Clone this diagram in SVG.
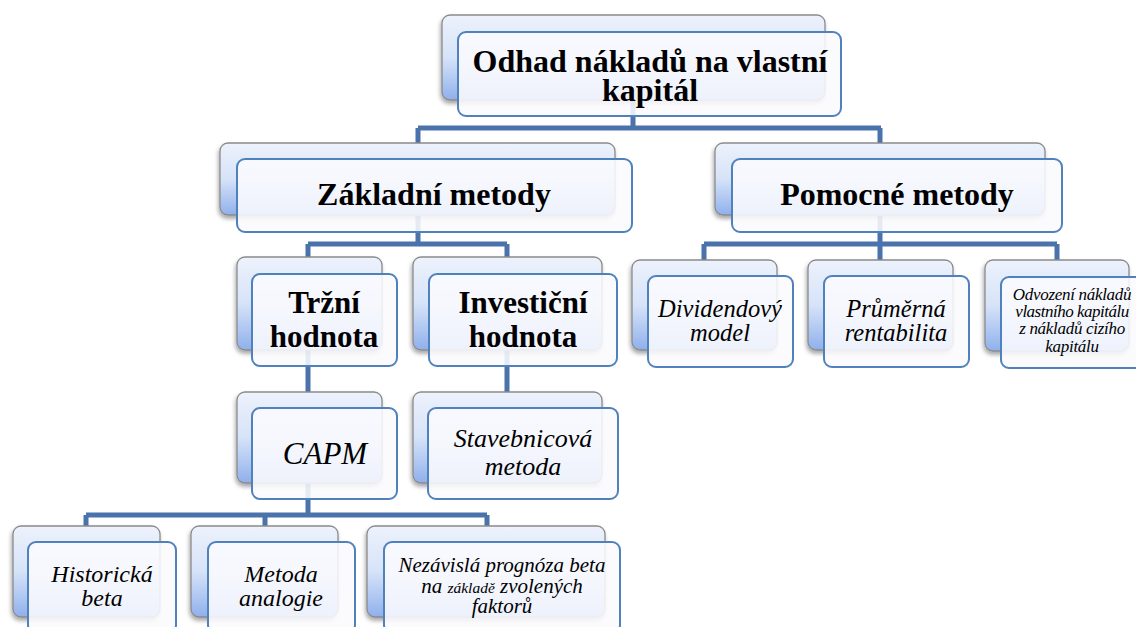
<svg xmlns="http://www.w3.org/2000/svg" width="1136" height="627" viewBox="0 0 1136 627">
<defs>
<linearGradient id="bg" x1="0" y1="0" x2="0" y2="1">
<stop offset="0" stop-color="#edf2fc"/>
<stop offset="0.5" stop-color="#d6e3f8"/>
<stop offset="1" stop-color="#8fb0ec"/>
</linearGradient>
<filter id="sh" x="-10%" y="-10%" width="125%" height="130%">
<feDropShadow dx="-1" dy="3" stdDeviation="2" flood-color="#000" flood-opacity="0.35"/>
</filter>
</defs>
<style>
.back{fill:url(#bg);stroke:#8a8a8a;stroke-width:1.3;filter:url(#sh)}
.front{fill:#fafbfe;fill-opacity:0.88;stroke:#4f81bd;stroke-width:2}
.con{fill:none;stroke:#4a73ab;stroke-width:5}
.b{font-family:"Liberation Serif","Times New Roman",serif;font-weight:bold;fill:#000;text-anchor:middle}
.i{font-family:"Liberation Serif","Times New Roman",serif;font-style:italic;fill:#000;text-anchor:middle}
</style>
<rect width="1136" height="627" fill="#fff"/>
<g id="connectors">
<path class="con" d="M633 100V128M418 128H881M418 128V143M880 128V143"/>
<path class="con" d="M418 215V244M308 244H507M308 244V257M507 244V257"/>
<path class="con" d="M880 215V244M704 244H1057M704 244V260M880 244V260M1057 244V260"/>
<path class="con" d="M308 350V392M507 350V392"/>
<path class="con" d="M308 483V515M86 515H487M86 515V526M265 515V526M487 515V526"/>
</g>
<g id="n-root">
<rect class="back" x="442" y="15" width="383" height="85" rx="8"/>
<rect class="front" x="458" y="32" width="383" height="84" rx="8"/>
<text class="b" font-size="32" x="650" y="72">Odhad nákladů na vlastní</text>
<text class="b" font-size="32" x="650" y="101">kapitál</text>
</g>
<g id="n-zakladni">
<rect class="back" x="220" y="143" width="395" height="72" rx="8"/>
<rect class="front" x="237" y="159" width="395" height="73" rx="8"/>
<text class="b" font-size="32" x="434" y="205">Základní metody</text>
</g>
<g id="n-pomocne">
<rect class="back" x="715" y="143" width="330" height="72" rx="8"/>
<rect class="front" x="732" y="159" width="330" height="73" rx="8"/>
<text class="b" font-size="32" x="897" y="205">Pomocné metody</text>
</g>
<g id="n-trzni">
<rect class="back" x="237" y="257" width="145" height="93" rx="8"/>
<rect class="front" x="252" y="274" width="145" height="92" rx="8"/>
<text class="b" font-size="31" x="324" y="313">Tržní</text>
<text class="b" font-size="31" x="324" y="347">hodnota</text>
</g>
<g id="n-investicni">
<rect class="back" x="413" y="257" width="189" height="93" rx="8"/>
<rect class="front" x="429" y="274" width="188" height="92" rx="8"/>
<text class="b" font-size="31" x="523" y="313">Investiční</text>
<text class="b" font-size="31" x="523" y="347">hodnota</text>
</g>
<g id="n-capm">
<rect class="back" x="237" y="392" width="145" height="91" rx="8"/>
<rect class="front" x="252" y="408" width="145" height="91" rx="8"/>
<text class="i" font-size="31" x="325" y="464">CAPM</text>
</g>
<g id="n-stavebnicova">
<rect class="back" x="413" y="392" width="189" height="91" rx="8"/>
<rect class="front" x="428" y="408" width="190" height="91" rx="8"/>
<text class="i" font-size="26" x="523" y="447">Stavebnicová</text>
<text class="i" font-size="26" x="523" y="475">metoda</text>
</g>
<g id="n-dividendovy">
<rect class="back" x="632" y="260" width="145" height="90" rx="8"/>
<rect class="front" x="648" y="276" width="145" height="91" rx="8"/>
<text class="i" font-size="24.5" x="720" y="317">Dividendový</text>
<text class="i" font-size="24.5" x="720" y="341">model</text>
</g>
<g id="n-prumerna">
<rect class="back" x="808" y="260" width="145" height="90" rx="8"/>
<rect class="front" x="824" y="276" width="145" height="91" rx="8"/>
<text class="i" font-size="24.5" x="896" y="317">Průměrná</text>
<text class="i" font-size="24.5" x="896" y="341">rentabilita</text>
</g>
<g id="n-odvozeni">
<rect class="back" x="985" y="260" width="144" height="91" rx="8"/>
<rect class="front" x="1001" y="277" width="145" height="91" rx="8"/>
<text class="i" font-size="17" x="1072" y="300" letter-spacing="-0.3">Odvození nákladů</text>
<text class="i" font-size="17" x="1072" y="317" letter-spacing="-0.5">vlastního kapitálu</text>
<text class="i" font-size="17" x="1072" y="334" letter-spacing="-0.3">z nákladů cizího</text>
<text class="i" font-size="17" x="1072" y="352" letter-spacing="-0.3">kapitálu</text>
</g>
<g id="n-historicka">
<rect class="back" x="13" y="526" width="147" height="91" rx="8"/>
<rect class="front" x="28" y="542" width="148" height="91" rx="8"/>
<text class="i" font-size="24" x="102" y="582">Historická</text>
<text class="i" font-size="24" x="102" y="606">beta</text>
</g>
<g id="n-metoda">
<rect class="back" x="191" y="526" width="147" height="91" rx="8"/>
<rect class="front" x="208" y="542" width="147" height="91" rx="8"/>
<text class="i" font-size="24" x="281" y="582">Metoda</text>
<text class="i" font-size="24" x="281" y="606">analogie</text>
</g>
<g id="n-nezavisla">
<rect class="back" x="367" y="526" width="238" height="91" rx="8"/>
<rect class="front" x="384" y="542" width="236" height="91" rx="8"/>
<text class="i" font-size="21" x="502" y="572">Nezávislá prognóza beta</text>
<text class="i" font-size="21" x="502" y="593">na <tspan font-size="15.5">základě</tspan> zvolených</text>
<text class="i" font-size="21" x="502" y="613">faktorů</text>
</g>
</svg>
